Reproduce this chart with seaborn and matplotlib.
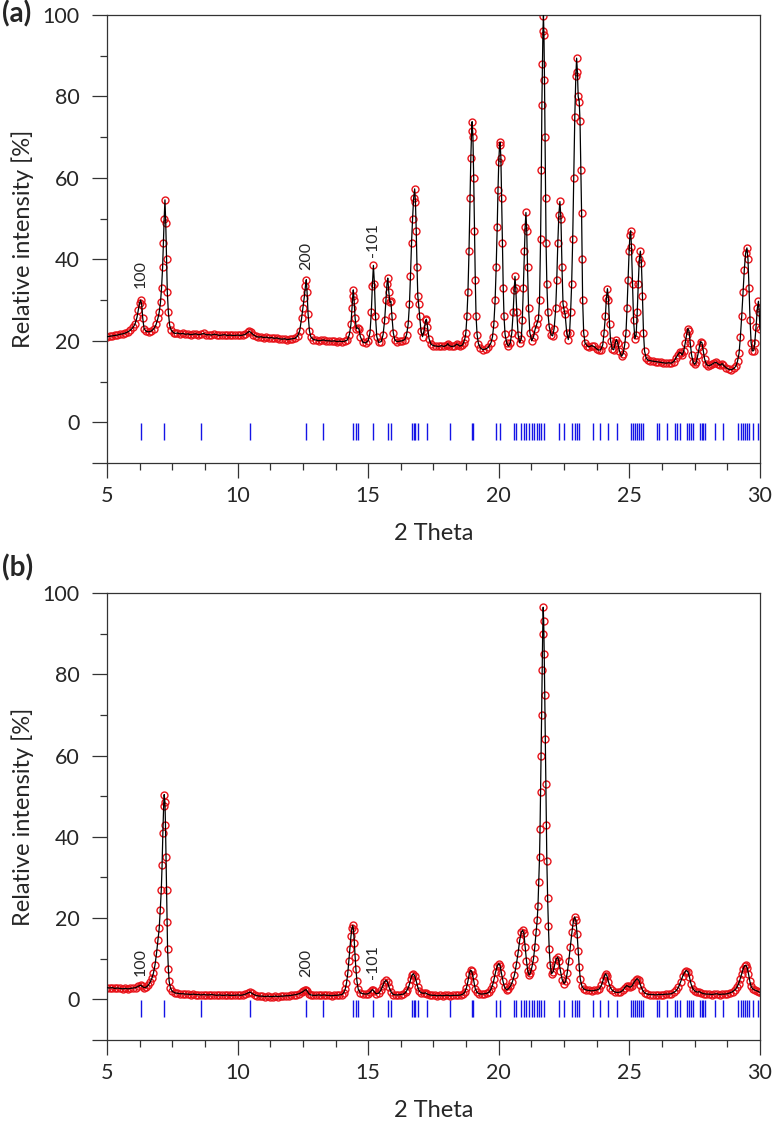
import numpy as np
import pandas as pd
import matplotlib
matplotlib.use('Agg')
import matplotlib.pyplot as plt
import seaborn as sns

sns.set_style('white')
plt.rcParams['font.family'] = ['Lato', 'DejaVu Sans']

# observed/fitted profile, panel (a): (2 theta, relative intensity)
a_profile = [
    (5.0, 21.0), (5.1, 21.1), (5.2, 21.2), (5.3, 21.3), (5.4, 21.4), (5.5, 21.6), (5.6, 21.7),
    (5.7, 21.9), (5.8, 22.2), (5.9, 22.6), (6.0, 23.3), (6.08, 24.2), (6.15, 25.8), (6.2, 27.5),
    (6.25, 29.3), (6.29, 30.0), (6.33, 28.8), (6.37, 25.5), (6.42, 23.0), (6.5, 22.3), (6.6, 22.2),
    (6.7, 22.4), (6.8, 23.0), (6.88, 24.0), (6.95, 25.5), (7.0, 27.0), (7.05, 29.5), (7.09, 33.0),
    (7.13, 38.0), (7.16, 44.0), (7.19, 50.0), (7.22, 54.6), (7.25, 49.0), (7.28, 40.0), (7.31, 32.0),
    (7.35, 27.0), (7.4, 23.8), (7.46, 22.6), (7.55, 22.0), (7.6, 21.8), (7.7, 21.9), (7.8, 21.7),
    (7.9, 21.8), (8.0, 21.6), (8.1, 21.7), (8.2, 21.5), (8.3, 21.6), (8.4, 21.7), (8.5, 21.5),
    (8.6, 21.6), (8.7, 21.8), (8.8, 21.5), (8.9, 21.5), (9.0, 21.4), (9.1, 21.6), (9.2, 21.5),
    (9.3, 21.3), (9.4, 21.4), (9.5, 21.5), (9.6, 21.3), (9.7, 21.4), (9.8, 21.3), (9.9, 21.3),
    (10.0, 21.4), (10.1, 21.3), (10.2, 21.4), (10.3, 21.6), (10.4, 22.1), (10.45, 22.3), (10.5, 22.1),
    (10.6, 21.5), (10.7, 21.1), (10.8, 20.9), (10.9, 21.0), (11.0, 20.8), (11.1, 20.9), (11.2, 20.7),
    (11.3, 20.8), (11.4, 20.6), (11.5, 20.7), (11.6, 20.5), (11.7, 20.4), (11.8, 20.5), (11.9, 20.3),
    (12.0, 20.4), (12.1, 20.5), (12.2, 20.6), (12.3, 21.2), (12.38, 22.5), (12.45, 25.5), (12.5, 28.0),
    (12.55, 30.5), (12.6, 33.5), (12.63, 35.0), (12.66, 32.0), (12.7, 26.5), (12.75, 22.5), (12.8, 21.0),
    (12.9, 20.3), (13.0, 20.2), (13.1, 20.0), (13.2, 20.1), (13.3, 20.2), (13.4, 20.0), (13.5, 20.0),
    (13.6, 19.9), (13.7, 20.0), (13.8, 19.8), (13.9, 19.9), (14.0, 19.8), (14.1, 19.9), (14.2, 20.2),
    (14.28, 21.5), (14.34, 24.0), (14.38, 28.0), (14.41, 31.0), (14.43, 32.5), (14.46, 30.0), (14.5, 25.5),
    (14.55, 23.0), (14.6, 23.2), (14.65, 22.8), (14.7, 21.0), (14.8, 19.6), (14.9, 19.5), (15.0, 20.0),
    (15.07, 22.0), (15.12, 27.0), (15.16, 33.5), (15.2, 38.5), (15.24, 34.0), (15.28, 26.0), (15.33, 21.0),
    (15.4, 19.6), (15.5, 19.8), (15.57, 21.5), (15.63, 25.0), (15.68, 30.0), (15.72, 34.0), (15.75, 35.4),
    (15.79, 32.0), (15.83, 29.5), (15.87, 29.7), (15.91, 26.0), (15.96, 22.0), (16.02, 20.2), (16.1, 19.8),
    (16.2, 19.9), (16.3, 20.0), (16.4, 20.3), (16.47, 21.5), (16.53, 24.0), (16.58, 29.0), (16.62, 36.0),
    (16.66, 44.0), (16.7, 50.0), (16.74, 55.0), (16.78, 57.3), (16.81, 54.0), (16.84, 47.0), (16.87, 38.0),
    (16.9, 31.0), (16.93, 29.0), (16.97, 26.0), (17.02, 22.5), (17.08, 21.0), (17.14, 22.5), (17.2, 25.0),
    (17.23, 25.3), (17.27, 23.5), (17.33, 20.5), (17.4, 19.2), (17.5, 18.8), (17.6, 18.7), (17.7, 18.6),
    (17.8, 18.8), (17.9, 18.6), (18.0, 18.9), (18.05, 19.3), (18.1, 18.8), (18.2, 18.6), (18.3, 18.7),
    (18.4, 19.2), (18.45, 19.0), (18.5, 18.7), (18.6, 18.9), (18.65, 19.5), (18.7, 20.5), (18.74, 22.0),
    (18.78, 26.0), (18.82, 32.0), (18.86, 42.0), (18.9, 55.0), (18.93, 65.0), (18.96, 71.5), (18.98, 73.8),
    (19.01, 70.0), (19.04, 60.0), (19.07, 47.0), (19.1, 35.0), (19.13, 26.0), (19.17, 21.5), (19.22, 19.3),
    (19.3, 18.2), (19.4, 17.8), (19.5, 18.0), (19.6, 18.4), (19.7, 19.5), (19.76, 21.0), (19.81, 24.0),
    (19.86, 30.0), (19.9, 38.0), (19.94, 48.0), (19.97, 57.0), (20.0, 64.0), (20.03, 68.0), (20.05, 68.7),
    (20.08, 65.0), (20.11, 55.0), (20.14, 44.0), (20.17, 33.0), (20.2, 26.0), (20.24, 21.6), (20.3, 19.5),
    (20.37, 18.7), (20.44, 19.5), (20.5, 22.0), (20.55, 27.0), (20.59, 32.5), (20.62, 35.8), (20.65, 33.0),
    (20.69, 27.0), (20.74, 21.5), (20.8, 19.5), (20.86, 20.5), (20.9, 25.0), (20.94, 33.0), (20.98, 42.0),
    (21.01, 48.0), (21.04, 51.5), (21.07, 47.0), (21.1, 38.0), (21.14, 28.0), (21.19, 22.0), (21.26, 20.0),
    (21.33, 21.0), (21.39, 22.8), (21.45, 24.0), (21.52, 25.5), (21.56, 30.0), (21.6, 45.0), (21.63, 62.0),
    (21.65, 78.0), (21.67, 88.0), (21.69, 96.0), (21.71, 99.8), (21.73, 95.0), (21.75, 84.0), (21.77, 70.0),
    (21.79, 55.0), (21.81, 44.0), (21.84, 34.0), (21.88, 27.0), (21.93, 23.5), (22.0, 21.5), (22.06, 21.2),
    (22.12, 23.0), (22.18, 28.0), (22.22, 35.0), (22.26, 44.0), (22.3, 51.0), (22.34, 54.2), (22.38, 50.0),
    (22.42, 38.0), (22.46, 29.0), (22.5, 27.6), (22.54, 26.5), (22.6, 22.0), (22.66, 20.3), (22.71, 22.0),
    (22.75, 27.0), (22.79, 34.0), (22.83, 45.0), (22.87, 60.0), (22.91, 75.0), (22.95, 85.0), (22.98, 89.4),
    (23.01, 86.0), (23.04, 80.0), (23.08, 78.7), (23.11, 74.0), (23.14, 62.0), (23.17, 51.4), (23.19, 40.0),
    (23.21, 30.0), (23.25, 22.0), (23.3, 19.5), (23.38, 18.8), (23.45, 18.5), (23.55, 18.8), (23.65, 18.6),
    (23.75, 18.0), (23.82, 17.7), (23.9, 17.8), (23.98, 19.0), (24.03, 22.0), (24.08, 26.0), (24.12, 30.5),
    (24.16, 32.8), (24.2, 30.0), (24.24, 24.0), (24.28, 20.0), (24.34, 18.0), (24.4, 17.8), (24.46, 19.5),
    (24.5, 20.3), (24.55, 19.5), (24.62, 17.5), (24.7, 16.2), (24.76, 16.8), (24.82, 19.0), (24.87, 22.0),
    (24.91, 28.0), (24.95, 35.0), (24.99, 42.0), (25.02, 46.0), (25.05, 47.0), (25.08, 43.0), (25.12, 34.0),
    (25.16, 25.0), (25.21, 20.5), (25.26, 21.5), (25.3, 27.0), (25.34, 34.0), (25.38, 40.0), (25.42, 42.0),
    (25.46, 39.0), (25.5, 31.0), (25.54, 22.0), (25.58, 17.5), (25.64, 15.8), (25.7, 15.3), (25.8, 15.1),
    (25.9, 15.0), (26.0, 14.9), (26.1, 14.8), (26.2, 14.7), (26.3, 14.6), (26.4, 14.5), (26.5, 14.6),
    (26.6, 14.5), (26.7, 14.9), (26.78, 15.8), (26.85, 16.5), (26.92, 17.2), (26.97, 17.0), (27.02, 16.5),
    (27.08, 17.5), (27.14, 19.5), (27.19, 21.5), (27.24, 23.0), (27.28, 22.5), (27.33, 19.5), (27.38, 16.5),
    (27.44, 14.8), (27.5, 14.2), (27.56, 14.8), (27.62, 16.5), (27.68, 18.5), (27.73, 19.8), (27.78, 19.5),
    (27.83, 17.5), (27.88, 15.5), (27.95, 14.2), (28.02, 13.9), (28.1, 14.0), (28.18, 14.3), (28.25, 14.6),
    (28.32, 14.7), (28.4, 14.3), (28.48, 14.0), (28.55, 14.4), (28.6, 14.0), (28.7, 13.4), (28.8, 13.0),
    (28.9, 12.9), (29.0, 13.2), (29.08, 13.8), (29.14, 15.0), (29.2, 17.0), (29.25, 21.0), (29.3, 26.0),
    (29.35, 32.0), (29.4, 37.5), (29.45, 41.5), (29.5, 42.8), (29.54, 40.0), (29.58, 33.0), (29.62, 25.0),
    (29.66, 19.5), (29.71, 17.5), (29.76, 17.6), (29.8, 19.5), (29.85, 23.5), (29.9, 28.0), (29.94, 29.7),
    (29.97, 27.0), (30.0, 23.0),
]

# panel (b)
b_profile = [
    (5.0, 2.9), (5.1, 2.8), (5.2, 2.9), (5.3, 2.7), (5.4, 2.8), (5.5, 2.7), (5.6, 2.6), (5.7, 2.7),
    (5.8, 2.6), (5.9, 2.7), (6.0, 2.8), (6.1, 2.9), (6.2, 3.2), (6.29, 3.5), (6.35, 3.2), (6.42, 2.9),
    (6.5, 3.0), (6.58, 3.5), (6.65, 4.2), (6.72, 5.2), (6.78, 6.5), (6.84, 8.5), (6.9, 11.5), (6.95, 14.5),
    (7.0, 17.5), (7.04, 22.0), (7.08, 27.0), (7.11, 33.0), (7.14, 41.0), (7.17, 47.5), (7.19, 50.4),
    (7.22, 48.5), (7.24, 43.0), (7.26, 35.0), (7.28, 27.0), (7.3, 19.0), (7.32, 12.5), (7.35, 7.5),
    (7.38, 4.5), (7.43, 2.8), (7.5, 2.0), (7.6, 1.6), (7.7, 1.5), (7.8, 1.4), (7.9, 1.4), (8.0, 1.3),
    (8.1, 1.3), (8.2, 1.2), (8.3, 1.3), (8.4, 1.2), (8.5, 1.2), (8.6, 1.1), (8.7, 1.2), (8.8, 1.1),
    (8.9, 1.1), (9.0, 1.2), (9.1, 1.1), (9.2, 1.0), (9.3, 1.1), (9.4, 1.0), (9.5, 1.0), (9.6, 1.1),
    (9.7, 1.0), (9.8, 1.0), (9.9, 1.0), (10.0, 1.1), (10.1, 1.0), (10.2, 1.1), (10.3, 1.3), (10.4, 1.6),
    (10.47, 1.8), (10.55, 1.5), (10.65, 1.1), (10.75, 0.9), (10.85, 0.8), (10.95, 0.8), (11.05, 0.7),
    (11.15, 0.8), (11.25, 0.7), (11.35, 0.7), (11.45, 0.8), (11.55, 0.7), (11.65, 0.8), (11.75, 0.8),
    (11.85, 0.9), (11.95, 0.9), (12.05, 1.0), (12.15, 1.1), (12.25, 1.2), (12.35, 1.4), (12.45, 1.7),
    (12.52, 2.0), (12.58, 2.3), (12.62, 2.4), (12.67, 2.0), (12.73, 1.4), (12.8, 1.1), (12.9, 1.0),
    (13.0, 1.0), (13.1, 1.1), (13.2, 1.0), (13.3, 1.1), (13.4, 1.0), (13.5, 1.0), (13.6, 0.9), (13.7, 1.0),
    (13.8, 1.0), (13.9, 1.1), (14.0, 1.2), (14.06, 1.6), (14.12, 2.5), (14.17, 4.0), (14.22, 6.5),
    (14.26, 9.5), (14.3, 12.5), (14.34, 15.5), (14.38, 17.5), (14.41, 18.2), (14.44, 17.0), (14.47, 14.0),
    (14.5, 10.5), (14.53, 7.5), (14.57, 4.5), (14.62, 2.5), (14.7, 1.6), (14.8, 1.4), (14.9, 1.3),
    (15.0, 1.4), (15.08, 1.8), (15.13, 2.2), (15.17, 2.4), (15.22, 2.0), (15.3, 1.4), (15.4, 1.5),
    (15.48, 2.2), (15.55, 3.2), (15.62, 4.3), (15.68, 4.7), (15.74, 4.2), (15.8, 3.0), (15.88, 1.8),
    (15.96, 1.2), (16.05, 1.1), (16.15, 1.1), (16.25, 1.2), (16.35, 1.3), (16.43, 1.7), (16.5, 2.4),
    (16.57, 3.5), (16.63, 5.0), (16.68, 6.0), (16.73, 6.3), (16.78, 5.8), (16.84, 4.5), (16.9, 3.0),
    (16.96, 2.0), (17.04, 1.6), (17.12, 1.5), (17.2, 1.6), (17.27, 1.3), (17.35, 1.1), (17.45, 1.0),
    (17.55, 1.0), (17.65, 0.9), (17.75, 1.0), (17.85, 0.9), (17.95, 1.0), (18.05, 1.0), (18.15, 0.9),
    (18.25, 1.0), (18.35, 1.0), (18.45, 1.0), (18.55, 1.1), (18.63, 1.3), (18.7, 1.8), (18.76, 2.8),
    (18.82, 4.5), (18.87, 6.3), (18.92, 7.2), (18.96, 7.0), (19.0, 6.0), (19.05, 4.3), (19.1, 2.6),
    (19.17, 1.7), (19.25, 1.4), (19.35, 1.3), (19.45, 1.4), (19.55, 1.5), (19.63, 1.8), (19.7, 2.5),
    (19.76, 3.5), (19.82, 5.0), (19.88, 6.8), (19.94, 8.2), (20.0, 8.8), (20.05, 8.3), (20.1, 6.5),
    (20.16, 4.5), (20.22, 3.0), (20.3, 2.4), (20.37, 2.6), (20.44, 3.2), (20.52, 4.3), (20.6, 6.0),
    (20.67, 8.5), (20.74, 11.5), (20.8, 14.5), (20.86, 16.5), (20.91, 17.0), (20.96, 16.3), (21.01, 13.0),
    (21.06, 9.5), (21.11, 7.0), (21.16, 6.0), (21.21, 6.5), (21.27, 8.0), (21.33, 10.0), (21.38, 13.0),
    (21.43, 16.5), (21.47, 19.5), (21.5, 23.0), (21.53, 29.0), (21.56, 35.0), (21.58, 42.0), (21.6, 51.0),
    (21.62, 60.0), (21.64, 70.0), (21.66, 81.0), (21.68, 90.0), (21.7, 96.5), (21.72, 93.0), (21.74, 85.0),
    (21.76, 75.0), (21.78, 64.0), (21.8, 53.0), (21.82, 43.0), (21.84, 34.0), (21.87, 25.0), (21.9, 18.0),
    (21.93, 12.5), (21.97, 8.5), (22.02, 6.3), (22.08, 6.8), (22.14, 8.5), (22.2, 10.0), (22.25, 10.4),
    (22.3, 9.5), (22.36, 7.0), (22.43, 4.8), (22.5, 3.9), (22.56, 4.5), (22.62, 6.5), (22.68, 9.5),
    (22.74, 13.0), (22.8, 16.5), (22.85, 19.0), (22.9, 20.3), (22.95, 19.5), (23.0, 16.0), (23.04, 12.0),
    (23.08, 8.0), (23.12, 5.0), (23.18, 3.3), (23.25, 2.6), (23.35, 2.3), (23.45, 2.2), (23.55, 2.1),
    (23.65, 2.2), (23.75, 2.3), (23.85, 2.6), (23.93, 3.5), (24.0, 4.8), (24.05, 5.8), (24.09, 6.3),
    (24.14, 5.8), (24.2, 4.3), (24.27, 2.9), (24.35, 2.2), (24.45, 1.8), (24.55, 1.7), (24.65, 1.8),
    (24.75, 2.2), (24.82, 2.9), (24.9, 3.4), (24.97, 3.2), (25.03, 3.0), (25.1, 3.3), (25.18, 4.2),
    (25.25, 4.8), (25.3, 5.1), (25.36, 4.7), (25.42, 3.6), (25.5, 2.3), (25.58, 1.6), (25.68, 1.3),
    (25.8, 1.2), (25.9, 1.2), (26.0, 1.1), (26.1, 1.2), (26.2, 1.2), (26.3, 1.2), (26.4, 1.3), (26.5, 1.3),
    (26.6, 1.4), (26.7, 1.7), (26.8, 2.2), (26.88, 3.0), (26.96, 4.3), (27.04, 5.7), (27.12, 6.7),
    (27.18, 7.1), (27.24, 6.8), (27.3, 5.5), (27.36, 3.8), (27.43, 2.6), (27.52, 2.0), (27.6, 1.8),
    (27.68, 1.9), (27.76, 1.6), (27.85, 1.4), (27.95, 1.3), (28.05, 1.3), (28.15, 1.2), (28.25, 1.3),
    (28.35, 1.4), (28.45, 1.2), (28.55, 1.3), (28.65, 1.3), (28.75, 1.4), (28.85, 1.6), (28.95, 1.9),
    (29.05, 2.4), (29.12, 3.0), (29.18, 3.9), (29.24, 5.0), (29.3, 6.3), (29.36, 7.6), (29.41, 8.3),
    (29.46, 8.4), (29.51, 7.8), (29.56, 6.3), (29.61, 4.5), (29.66, 3.2), (29.72, 2.6), (29.8, 2.3),
    (29.88, 2.1), (29.95, 1.9), (30.0, 1.7),
]

# Bragg reflection positions (same phase in both panels)
refl_pos = [
    6.29, 7.19, 8.60, 10.46, 12.63, 13.27, 14.43, 14.53, 14.62, 15.17, 15.75, 15.86,
    16.66, 16.74, 16.81, 16.92, 17.26, 18.13, 18.96, 19.03, 19.88, 20.05, 20.58, 20.66,
    20.85, 20.95, 21.06, 21.17, 21.27, 21.36, 21.45, 21.54, 21.62, 21.73, 22.30, 22.50,
    22.82, 22.92, 23.01, 23.08, 23.59, 23.87, 24.17, 24.51, 25.05, 25.14, 25.21, 25.29,
    25.37, 25.46, 25.53, 26.04, 26.13, 26.45, 26.75, 26.83, 26.94, 27.19, 27.27, 27.34,
    27.42, 27.70, 27.77, 27.83, 27.89, 28.28, 28.57, 29.17, 29.26, 29.34, 29.43, 29.51,
    29.59, 29.74, 29.94,
]

# hkl labels: text, 2 theta, label base height for (a) and (b)
hkl_text = ['100', '200', '-101']
hkl_pos = [6.29, 12.63, 15.20]
hkl_base_a = [33.0, 37.5, 40.5]
hkl_base_b = [5.8, 5.4, 5.0]

panels = [('(a)', a_profile, hkl_base_a, [0.1382, 0.5881, 0.8437, 0.3986], 0.9995),
          ('(b)', b_profile, hkl_base_b, [0.1382, 0.0747, 0.8437, 0.3977], 0.5070)]

fig = plt.figure(figsize=(7.74, 11.24), dpi=100)

for tag, profile, hkl_base, rect, tag_y in panels:
    ax = fig.add_axes(rect)
    df = pd.DataFrame(profile, columns=['two_theta', 'intensity'])

    # observed points (open red circles) and fitted curve (black line)
    sns.lineplot(data=df, x='two_theta', y='intensity', ax=ax, estimator=None, sort=False,
                 marker='o', linestyle='', markersize=5.0, markerfacecolor='none',
                 markeredgecolor='#e8131a', markeredgewidth=1.0, zorder=2)
    sns.lineplot(data=df, x='two_theta', y='intensity', ax=ax, estimator=None, sort=False,
                 color='black', linewidth=0.9, zorder=3)

    ax.vlines(refl_pos, -4.3, -0.1, color='#1414e6', linewidth=1.0, zorder=1)

    for txt, pos, base in zip(hkl_text, hkl_pos, hkl_base):
        ax.text(pos, base, txt, rotation=90, ha='center', va='bottom', fontsize=11.5)

    ax.set_xlim(5, 30)
    ax.set_ylim(-10, 100)
    ax.set_xticks([5, 10, 15, 20, 25, 30])
    ax.set_xticks(np.arange(5, 30.01, 1.25), minor=True)
    ax.set_yticks([-10, 0, 20, 40, 60, 80, 100], labels=['', '0', '20', '40', '60', '80', '100'])
    ax.set_yticks([10, 30, 50, 70, 90], minor=True)
    ax.tick_params(which='major', direction='out', length=10.5, width=0.9, color='#333333',
                   labelsize=15.5, pad=6, bottom=True, left=True, top=False, right=False)
    ax.tick_params(which='minor', direction='out', length=5, width=0.9, color='#333333',
                   bottom=True, left=True, top=False, right=False)
    ax.tick_params(axis='y', which='major', pad=9)
    for s in ax.spines.values():
        s.set_color('#333333')
        s.set_linewidth(0.9)

    ax.set_xlabel('2 Theta', fontsize=17, labelpad=12)
    ax.set_ylabel('Relative intensity [%]', fontsize=17, labelpad=6)

    fig.text(0.002, tag_y, tag, fontsize=20, fontweight='bold', va='top', ha='left')

fig.savefig('out.png', dpi=100)
